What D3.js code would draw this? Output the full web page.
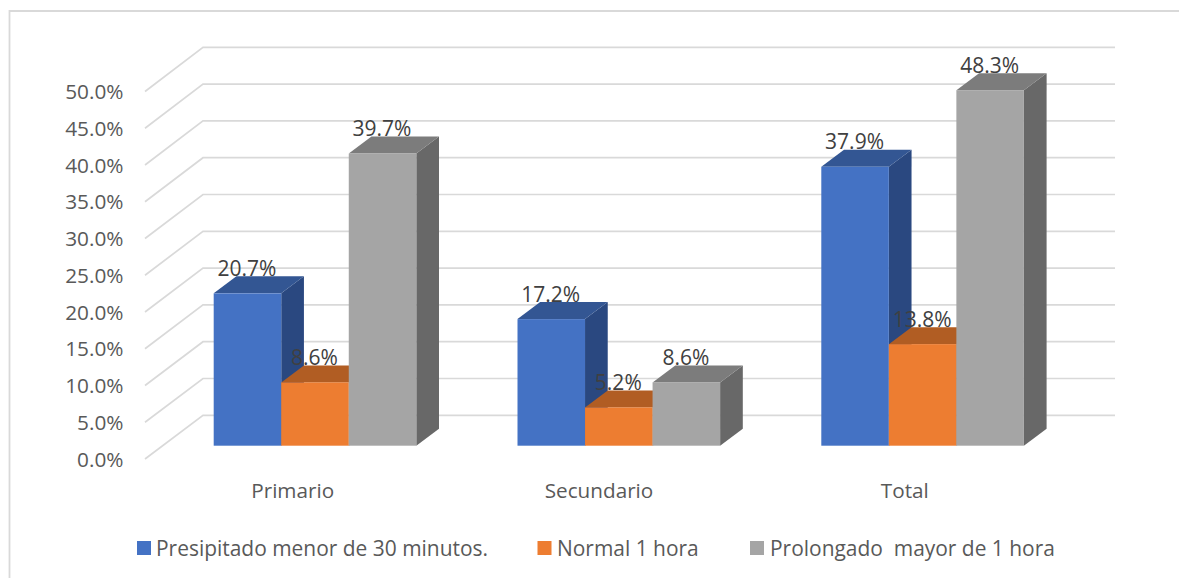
<!DOCTYPE html>
<html><head><meta charset="utf-8">
<script src="https://cdn.jsdelivr.net/npm/d3@7/dist/d3.min.js"></script>
<style>html,body{margin:0;padding:0;background:#fff}svg{display:block}text{font-family:"Open Sans",sans-serif}</style>
</head><body><div id="c"></div>
<script>
const categories = ["Primario","Secundario","Total"];
const seriesNames = ["Presipitado menor de 30 minutos.","Normal 1 hora","Prolongado  mayor de 1 hora"];
const presipitado = [20.7,17.2,37.9];
const normal = [8.6,5.2,13.8];
const prolongado = [39.7,8.6,48.3];
const tickValues = [0,5,10,15,20,25,30,35,40,45,50];
const frontColors = ["#4472C4","#ED7D31","#A5A5A5"];
const topColors = ["#335693","#B15D23","#7C7C7C"];
const sideColors = ["#2A4880","#8F4B1C","#686868"];

const W=1179,H=578;
const svg=d3.select("#c").append("svg").attr("width",W).attr("height",H);
const yFront=d3.scaleLinear().domain([0,50]).range([445.7,77.7]);
const yLeft=d3.scaleLinear().domain([0,50]).range([459,91.5]);
const yBack=d3.scaleLinear().domain([0,50]).range([415.3,47.3]);
const xCat=d3.scalePoint().domain(categories).range([213.7,821.3]);
const xSer=d3.scaleBand().domain(d3.range(3)).range([0,202.6]);
const depthX=22.7,depthY=17;

// frame: open on the right and bottom
svg.append("path").attr("d","M9.5 578V11H1179").attr("fill","none").attr("stroke","#D9D9D9").attr("stroke-width",1.8);

// gridlines
const grid=svg.append("g").attr("fill","none").attr("stroke","#D9D9D9").attr("stroke-width",1.7);
tickValues.forEach(t=>{
  grid.append("path").attr("d",`M145 ${yLeft(t)}L203 ${yBack(t)}H1115`);
});

// tick labels
svg.append("g").selectAll("text").data(tickValues).join("text")
  .attr("x",123.5).attr("y",d=>yLeft(d)+7.5).attr("text-anchor","end")
  .attr("font-size",20.8).attr("fill","#595959").text(d=>d.toFixed(1)+"%");

// bars
const series=[presipitado,normal,prolongado];
const bars=svg.append("g");
categories.forEach((c,i)=>{
  series.forEach((vals,s)=>{
    const x0=xCat(c)+xSer(s),x1=x0+xSer.bandwidth(),yb=yFront(0),yt=yFront(vals[i]);
    bars.append("path").attr("fill",sideColors[s])
      .attr("d",`M${x1} ${yb}L${x1+depthX} ${yb-depthY}V${yt-depthY}L${x1} ${yt}Z`);
    bars.append("path").attr("fill",topColors[s])
      .attr("d",`M${x0} ${yt}L${x0+depthX} ${yt-depthY}H${x1+depthX}L${x1} ${yt}Z`);
    bars.append("rect").attr("x",x0).attr("y",yt).attr("width",x1-x0).attr("height",yb-yt).attr("fill",frontColors[s]);
  });
});
// data labels
const labels=svg.append("g");
categories.forEach((c,i)=>{
  series.forEach((vals,s)=>{
    labels.append("text").attr("x",xCat(c)+xSer(s)+xSer.bandwidth()/2-0.5)
      .attr("y",yFront(vals[i])-17.5).attr("text-anchor","middle")
      .attr("font-size",21).attr("fill","#404040").text(vals[i].toFixed(1)+"%");
  });
});
// category labels
svg.append("g").selectAll("text").data(categories).join("text")
  .attr("x",d=>xCat(d)+[79,81.5,83.5][categories.indexOf(d)]).attr("y",497.5).attr("text-anchor","middle")
  .attr("font-size",20.7).attr("fill","#595959").text(d=>d);
// legend
const legX=[137,537.5,750];
const leg=svg.append("g");
seriesNames.forEach((n,s)=>{
  leg.append("rect").attr("x",legX[s]).attr("y",541).attr("width",14).attr("height",14).attr("fill",frontColors[s]);
  leg.append("text").attr("x",legX[s]+[19,19.5,20][s]).attr("y",555.5).attr("font-size",20.95).attr("fill","#595959").style("white-space","pre").text(n);
});
</script></body></html>
